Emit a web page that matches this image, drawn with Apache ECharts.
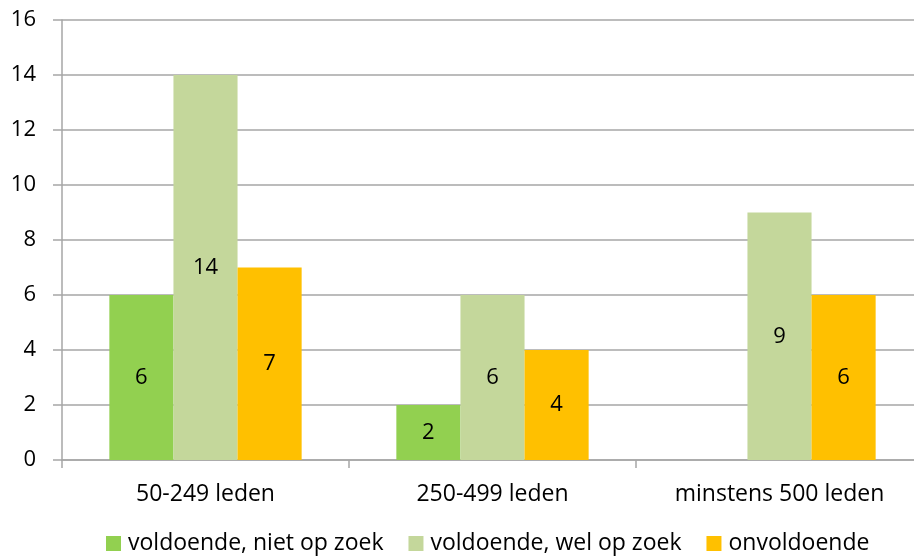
<!DOCTYPE html>
<html>
<head>
<meta charset="utf-8">
<script src="https://cdn.jsdelivr.net/npm/echarts@6/dist/echarts.min.js"></script>
<style>
  html, body { margin: 0; padding: 0; background: #fff; }
  #chart { width: 914px; height: 556px; }
</style>
</head>
<body>
<div id="chart"></div>
<script>
const categories = ['50-249 leden', '250-499 leden', 'minstens 500 leden']
const seriesNames = ['voldoende, niet op zoek', 'voldoende, wel op zoek', 'onvoldoende']
const nietOpZoek = [6, 2, 0]
const welOpZoek = [14, 6, 9]
const onvoldoende = [7, 4, 6]
const colors = ['#92D050', '#C4D79B', '#FFC000']

const font = '"Open Sans", "Noto Sans", sans-serif'
const gray = '#A6A6A6'

function barSeries(name, data, color) {
  return {
    name,
    type: 'bar',
    data,
    barGap: 0,
    barCategoryGap: '33%',
    itemStyle: { color },
    label: {
      show: true,
      position: 'inside',
      color: '#000',
      fontSize: 22,
      fontFamily: font,
      // 0 不显示
      formatter: (p) => (p.value === 0 ? '' : p.value),
    },
  }
}

const chart = echarts.init(document.getElementById('chart'))
chart.setOption({
  animation: false,
  textStyle: { fontFamily: font },
  // 右侧超出画布（原图被裁切）
  grid: { left: 62, width: 861, top: 20, bottom: 96, outerBoundsMode: 'none' },
  legend: {
    bottom: -4,
    left: 101,
    itemWidth: 15,
    itemHeight: 15,
    itemGap: 25,
    icon: 'rect',
    textStyle: { fontSize: 23, color: '#000', fontFamily: font, padding: [0, 0, 0, 2] },
    data: seriesNames,
  },
  xAxis: {
    type: 'category',
    data: categories,
    axisLine: { lineStyle: { color: gray, width: 1.5 } },
    axisTick: { show: true, length: 8, lineStyle: { color: gray, width: 1.5 } },
    axisLabel: { fontSize: 23, color: '#000', margin: 23, fontFamily: font },
  },
  yAxis: {
    type: 'value',
    min: 0,
    max: 16,
    interval: 2,
    axisLine: { show: true, lineStyle: { color: gray, width: 1.5 } },
    axisTick: { show: true, length: 9, lineStyle: { color: gray, width: 1.5 } },
    axisLabel: { fontSize: 22, color: '#000', margin: 26, fontFamily: font },
    splitLine: { lineStyle: { color: gray, width: 1.5 } },
  },
  series: [
    barSeries(seriesNames[0], nietOpZoek, colors[0]),
    barSeries(seriesNames[1], welOpZoek, colors[1]),
    barSeries(seriesNames[2], onvoldoende, colors[2]),
  ],
})
</script>
</body>
</html>
